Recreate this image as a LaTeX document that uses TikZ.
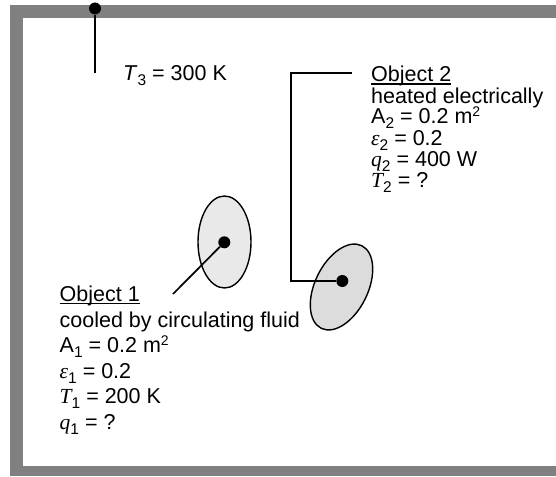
\documentclass[tikz,border=0pt]{standalone}
\usepackage{fontspec}
\setmainfont{Liberation Sans}
\newfontfamily\tmsfont{Liberation Serif}
\usetikzlibrary{shapes.geometric}
\definecolor{wallgray}{RGB}{128,128,128}
\definecolor{fillone}{RGB}{233,233,233}
\definecolor{filltwo}{RGB}{220,220,220}
\newcommand{\lidx}[1]{\raisebox{-5pt}{\fontsize{15.5}{15.5}\selectfont #1}}
\newcommand{\hidx}[1]{\raisebox{7.5pt}{\fontsize{14}{14}\selectfont #1}}
\newcommand{\tv}[1]{{\tmsfont\itshape #1}}
\begin{document}
\begin{tikzpicture}[x=1pt,y=-1pt,
  lbl/.style={anchor=base west,inner sep=0pt,font=\fontsize{21.5}{24}\selectfont},
  blob/.style={ellipse,draw=black,line width=1.4pt,minimum width=53pt,minimum height=92pt,inner sep=0pt},
  dotnode/.style={circle,fill=black,minimum size=12pt,inner sep=0pt},
  wire/.style={line width=1.7pt},
  uline/.style={line width=1.3pt}]
\useasboundingbox (0,0) rectangle (556,476);
% enclosure walls
\fill[wallgray] (10,5) rectangle (556,476);
\fill[white] (23,18) rectangle (556,466);
% objects
\node[blob,fill=fillone] (obj1) at (224.5,242) {};
\node[blob,fill=filltwo,rotate=-26] (obj2) at (341.5,287) {};
\node[dotnode] (d1) at (224.3,242.3) {};
\node[dotnode] (d2) at (342.3,281) {};
\node[dotnode] (d3) at (95,8.5) {};
\coordinate (e1) at (173,294);
\coordinate (e2) at (352,73);
\coordinate (k2) at (291,73);
\coordinate (e3) at (95,73);
\draw[wire] (d1) -- (e1);
\draw[wire,line width=1.5pt] (e2) -- (k2) |- (d2);
\draw[wire] (d3) -- (e3);
% T3 label
\node[lbl] (t3) at (123,81) {\textit{T}\lidx{3} = 300 K};
% Object 2 block
\node[lbl] (o2a) at (371,82) {Object 2};
\node[lbl] (o2b) at (371,103) {heated electrically};
\node[lbl] (o2c) at (371,124) {A\lidx{2} = 0.2 m\hidx{2}};
\node[lbl] (o2d) at (371,145) {\tv{ε}\lidx{2} = 0.2};
\node[lbl] (o2e) at (371,166) {\tv{q}\lidx{2} = 400 W};
\node[lbl] (o2f) at (371,187) {\tv{T}\lidx{2} = ?};
\draw[uline] ([yshift=-2pt]o2a.base west) -- ([yshift=-2pt]o2a.base east);
% Object 1 block
\node[lbl] (o1a) at (59.5,301.7) {Object 1};
\node[lbl] (o1b) at (59.5,327.2) {cooled by circulating fluid};
\node[lbl] (o1c) at (59.5,352.7) {A\lidx{1} = 0.2 m\hidx{2}};
\node[lbl] (o1d) at (59.5,378.2) {\tv{ε}\lidx{1} = 0.2};
\node[lbl] (o1e) at (59.5,403.7) {\tv{T}\lidx{1} = 200 K};
\node[lbl] (o1f) at (59.5,429.2) {\tv{q}\lidx{1} = ?};
\draw[uline] ([yshift=-2pt]o1a.base west) -- ([yshift=-2pt]o1a.base east);
\end{tikzpicture}
\end{document}
